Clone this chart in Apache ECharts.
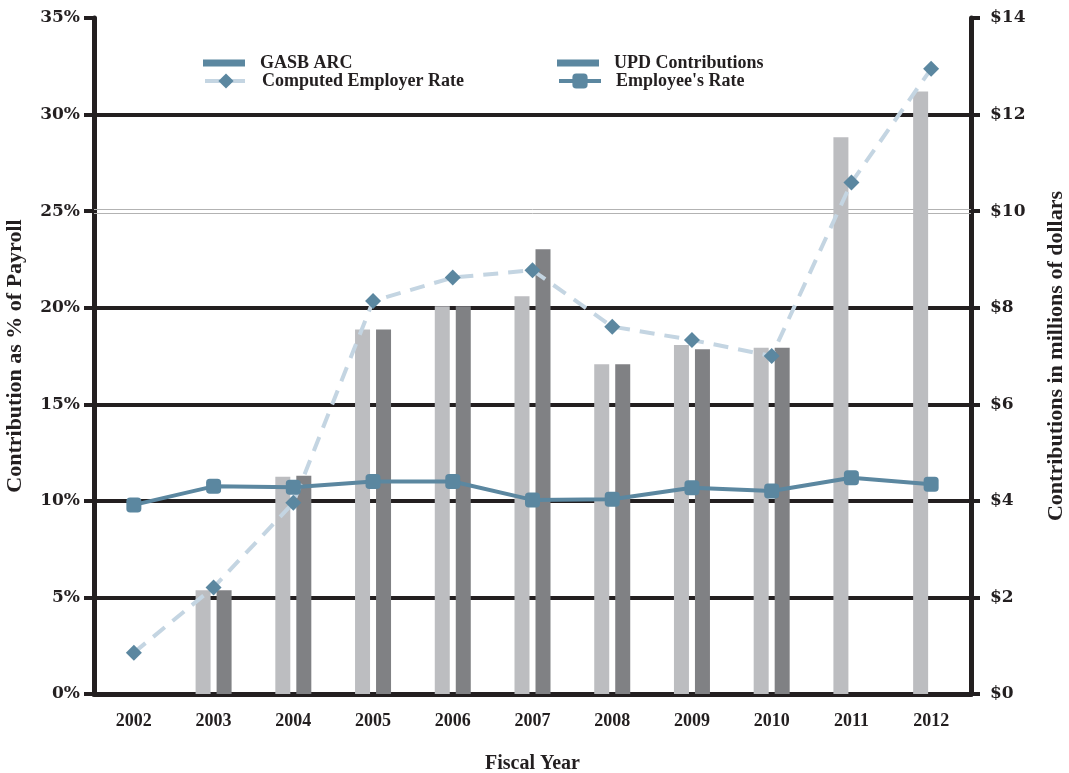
<!DOCTYPE html>
<html>
<head>
<meta charset="utf-8">
<script src="https://cdn.jsdelivr.net/npm/echarts@6/dist/echarts.min.js"></script>
<style>
  html, body { margin: 0; padding: 0; background: #ffffff; }
  #chart { width: 1069px; height: 773px; }
</style>
</head>
<body>
<div id="chart"></div>
<script>
// Fiscal years on the category axis
const years = ['2002', '2003', '2004', '2005', '2006', '2007', '2008', '2009', '2010', '2011', '2012'];

// Contributions, millions of dollars (right axis)
const gasbArc = [null, 2.15, 4.50, 7.55, 8.03, 8.24, 6.83, 7.23, 7.17, 11.53, 12.48];
const updContributions = [null, 2.15, 4.52, 7.55, 8.03, 9.21, 6.83, 7.14, 7.17, null, null];

// Rates, percent of payroll (left axis)
const computedEmployerRate = [2.14, 5.52, 9.90, 20.35, 21.56, 21.94, 19.02, 18.33, 17.50, 26.48, 32.37];
const employeeRate = [9.79, 10.75, 10.70, 11.00, 11.00, 10.05, 10.08, 10.68, 10.51, 11.20, 10.86];

// Axis ranges and tick steps
const pctAxis = { min: 0, max: 35, step: 5 };
const dollarAxis = { min: 0, max: 14, step: 2 };

const INK = '#231f20';
const BLUE = '#5b87a0';
const PALE_BLUE = '#c4d5e2';
const LIGHT_GRAY = '#bcbdc0';
const DARK_GRAY = '#808184';
const SERIF = '"Liberation Serif", "Times New Roman", serif';
const TICK_FONT = '"DejaVu Serif", Georgia, serif';

// Grid line colours per tick (0%..35%); 25% gets the pair of thin grey rules instead
const gridColors = [INK, INK, INK, INK, INK, 'rgba(0,0,0,0)', INK, 'rgba(0,0,0,0)'];

const legendText = { fontFamily: SERIF, fontWeight: 'bold', fontSize: 18, color: INK };

function legendBox(name, left, top, itemHeight, extra) {
  return Object.assign({
    data: [name],
    left: left,
    top: top,
    itemWidth: 42,
    itemHeight: itemHeight,
    itemGap: 0,
    padding: 0,
    selectedMode: false,
    textStyle: Object.assign({ padding: [0, 0, 0, 10] }, legendText)
  }, extra || {});
}

const chart = echarts.init(document.getElementById('chart'), null, { renderer: 'canvas' });

chart.setOption({
  animation: false,
  backgroundColor: '#ffffff',
  grid: { left: 94, right: 98, top: 18, bottom: 79, containLabel: false, outerBoundsMode: 'none' },
  legend: [
    legendBox('GASB ARC', 203, 54, 7, { icon: 'rect', itemStyle: { color: BLUE } }),
    legendBox('UPD Contributions', 557, 54, 7, { icon: 'rect', itemStyle: { color: BLUE } }),
    legendBox('Computed Employer Rate', 203, 72, 19, { lineStyle: { width: 4, color: PALE_BLUE } }),
    legendBox("Employee's Rate", 557, 72, 19, { lineStyle: { width: 4, color: BLUE } })
  ],
  xAxis: {
    type: 'category',
    data: years,
    boundaryGap: true,
    axisLine: { show: true, lineStyle: { color: INK, width: 5 } },
    axisTick: { show: false },
    axisLabel: { margin: 18, fontFamily: SERIF, fontWeight: 'bold', fontSize: 18, color: INK },
    splitLine: { show: false },
    name: 'Fiscal Year',
    nameLocation: 'middle',
    nameGap: 60,
    nameTextStyle: { fontFamily: SERIF, fontWeight: 'bold', fontSize: 20, color: INK }
  },
  yAxis: [
    {
      type: 'value',
      position: 'left',
      min: pctAxis.min,
      max: pctAxis.max,
      interval: pctAxis.step,
      axisLine: { show: true, lineStyle: { color: INK, width: 5 } },
      axisTick: { show: true, inside: false, length: 10, lineStyle: { color: INK, width: 4 } },
      axisLabel: { formatter: '{value}%', margin: 14, fontFamily: TICK_FONT, fontWeight: 'bold', fontSize: 17, color: INK },
      splitLine: { show: true, lineStyle: { color: gridColors, width: 4 } },
      name: 'Contribution as % of Payroll',
      nameLocation: 'middle',
      nameGap: 68,
      nameTextStyle: { fontFamily: SERIF, fontWeight: 'bold', fontSize: 22, color: INK }
    },
    {
      type: 'value',
      position: 'right',
      min: dollarAxis.min,
      max: dollarAxis.max,
      interval: dollarAxis.step,
      axisLine: { show: true, lineStyle: { color: INK, width: 5 } },
      axisTick: { show: true, inside: false, length: 9, lineStyle: { color: INK, width: 4 } },
      axisLabel: { formatter: '${value}', margin: 19, fontFamily: TICK_FONT, fontWeight: 'bold', fontSize: 17, color: INK },
      splitLine: { show: false },
      name: 'Contributions in millions of dollars',
      nameLocation: 'middle',
      nameGap: 74,
      nameTextStyle: { fontFamily: SERIF, fontWeight: 'bold', fontSize: 22, color: INK }
    }
  ],
  series: [
    {
      name: 'GASB ARC',
      type: 'bar',
      yAxisIndex: 1,
      data: gasbArc,
      barWidth: 15,
      barGap: '40%',
      itemStyle: { color: LIGHT_GRAY },
      z: 2,
      markLine: {
        silent: true,
        symbol: 'none',
        z: 1,
        label: { show: false },
        lineStyle: { color: '#b3b3b3', width: 1, type: 'solid' },
        data: [
          { yAxis: dollarAxis.max * 24.9 / pctAxis.max },
          { yAxis: dollarAxis.max * 25.1 / pctAxis.max }
        ]
      }
    },
    {
      name: 'UPD Contributions',
      type: 'bar',
      yAxisIndex: 1,
      data: updContributions,
      barWidth: 15,
      barGap: '40%',
      itemStyle: { color: DARK_GRAY },
      z: 2
    },
    {
      name: 'Computed Employer Rate',
      type: 'line',
      yAxisIndex: 0,
      data: computedEmployerRate,
      symbol: 'diamond',
      symbolSize: 16,
      itemStyle: { color: BLUE },
      lineStyle: { color: PALE_BLUE, width: 4, type: [15, 10] },
      z: 3
    },
    {
      name: "Employee's Rate",
      type: 'line',
      yAxisIndex: 0,
      data: employeeRate,
      symbol: 'roundRect',
      symbolSize: 15,
      itemStyle: { color: BLUE },
      lineStyle: { color: BLUE, width: 4 },
      z: 4
    }
  ]
});
</script>
</body>
</html>
